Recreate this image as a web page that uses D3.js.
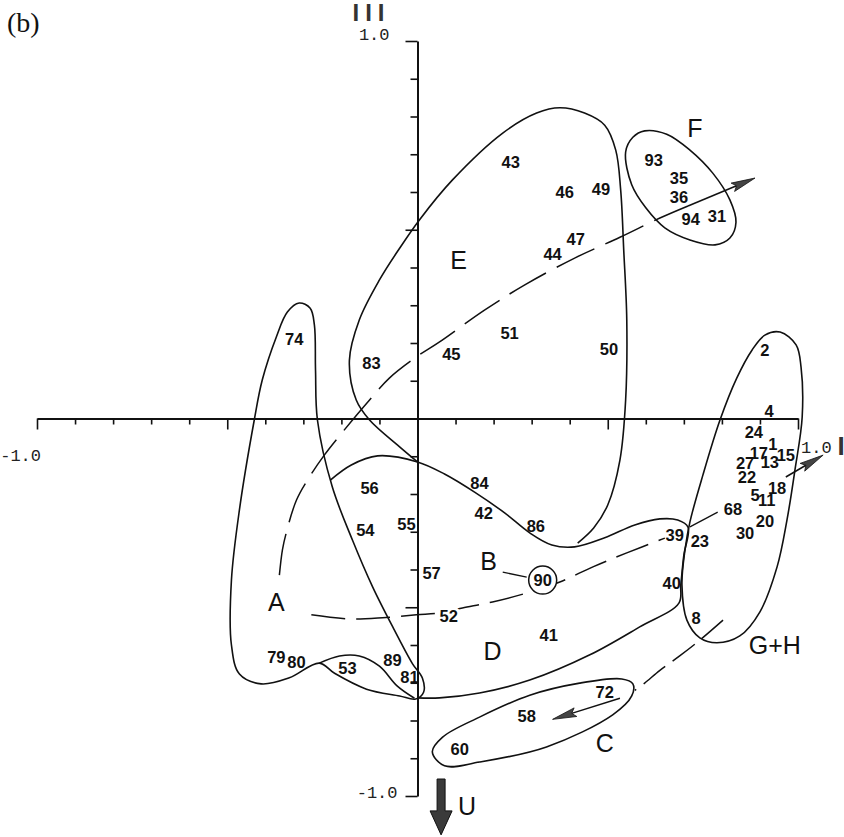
<!DOCTYPE html>
<html>
<head>
<meta charset="utf-8">
<script src="https://cdn.jsdelivr.net/npm/d3@7/dist/d3.min.js"></script>
<style>
  body { margin: 0; background: #fff; }
  svg { display: block; }
</style>
</head>
<body>
<div id="chart"></div>
<script>
// Score plot, axis I (horizontal) vs axis III (vertical)
const width = 844, height = 837;

// sample numbers and their scores
const pointIds = ["1","2","4","5","8","11","13","15","17","18","20","22","23","24","27","30","31","35","36","39",
  "40","41","42","43","44","45","46","47","49","50","51","52","53","54","55","56","57","58","60","68",
  "72","74","79","80","81","83","84","86","89","90","93","94"];
const scoreI = [0.934,0.913,0.924,0.887,0.732,0.918,0.926,0.968,0.897,0.945,0.913,0.866,0.742,0.884,0.861,0.861,0.787,0.687,0.687,0.676,
  0.668,0.345,0.174,0.245,0.355,0.089,0.387,0.416,0.482,0.503,0.242,0.082,-0.184,-0.137,-0.029,-0.126,0.037,0.287,0.111,0.829,
  0.492,-0.324,-0.371,-0.318,-0.021,-0.121,0.163,0.311,-0.066,0.329,0.621,0.718];
const scoreIII = [-0.068,0.181,0.020,-0.203,-0.528,-0.216,-0.115,-0.097,-0.091,-0.184,-0.272,-0.155,-0.325,-0.036,-0.118,-0.303,0.536,0.637,0.587,-0.309,
  -0.436,-0.574,-0.250,0.679,0.436,0.171,0.600,0.475,0.608,0.184,0.226,-0.523,-0.661,-0.295,-0.279,-0.184,-0.409,-0.788,-0.875,-0.240,
  -0.725,0.211,-0.632,-0.645,-0.685,0.147,-0.171,-0.285,-0.640,-0.428,0.685,0.528];

// group letters
const groupNames = ["A","B","C","D","E","F","G+H"];
const groupI = [-0.371,0.187,0.492,0.197,0.108,0.729,0.939];
const groupIII = [-0.486,-0.377,-0.860,-0.616,0.420,0.770,-0.600];

// hand drawn group outlines [I, III]
const outlineA = [[-0.311,0.306],[-0.282,0.292],[-0.271,0.248],[-0.268,0.128],[-0.263,-0.004],[-0.224,-0.181],[-0.171,-0.322],
  [-0.118,-0.446],[-0.061,-0.560],[-0.013,-0.650],[0.013,-0.688],[0.016,-0.725],[-0.005,-0.743],[-0.047,-0.735],[-0.134,-0.717],
  [-0.218,-0.675],[-0.258,-0.648],[-0.337,-0.687],[-0.411,-0.703],[-0.468,-0.677],[-0.489,-0.600],[-0.489,-0.428],[-0.468,-0.242],
  [-0.429,-0.004],[-0.408,0.102],[-0.371,0.216],[-0.342,0.282]];
const loop53 = [[-0.258,-0.648],[-0.205,-0.629],[-0.153,-0.629],[-0.100,-0.656],[-0.053,-0.709],[-0.008,-0.741]];
const outlineBD = [[-0.229,-0.163],[-0.174,-0.123],[-0.105,-0.099],[0,-0.115],[0.071,-0.147],[0.150,-0.195],[0.229,-0.250],
  [0.295,-0.303],[0.353,-0.335],[0.413,-0.340],[0.492,-0.316],[0.571,-0.282],[0.637,-0.266],[0.684,-0.269],[0.711,-0.288],
  [0.700,-0.362],[0.692,-0.441],[0.687,-0.489],[0.584,-0.552],[0.453,-0.626],[0.295,-0.693],[0.163,-0.727],[0.058,-0.740],[0,-0.740]];
const outlineE = [[0,-0.115],[-0.047,-0.075],[-0.126,-0.004],[-0.161,0.049],[-0.179,0.154],[-0.153,0.261],[-0.100,0.367],
  [-0.047,0.451],[0.005,0.526],[0.092,0.632],[0.224,0.756],[0.313,0.809],[0.374,0.823],[0.439,0.809],[0.492,0.777],[0.521,0.711],
  [0.534,0.605],[0.542,0.446],[0.550,0.261],[0.547,0.049],[0.532,-0.110],[0.500,-0.229],[0.463,-0.290],[0.421,-0.330]];
const outlineF = [[0.547,0.706],[0.566,0.745],[0.597,0.762],[0.655,0.753],[0.716,0.711],[0.776,0.650],[0.821,0.579],[0.837,0.520],
  [0.821,0.478],[0.782,0.460],[0.716,0.473],[0.650,0.505],[0.600,0.558],[0.563,0.619]];
const outlineGH = [[0.953,0.229],[0.995,0.195],[1.008,0.136],[1.011,0.004],[0.992,-0.136],[0.971,-0.269],[0.945,-0.393],[0.900,-0.512],
  [0.847,-0.576],[0.787,-0.594],[0.742,-0.581],[0.708,-0.534],[0.695,-0.441],[0.703,-0.348],[0.716,-0.274],[0.750,-0.150],
  [0.795,-0.004],[0.839,0.107],[0.879,0.181],[0.913,0.221]];
const outlineC = [[0.039,-0.883],[0.071,-0.920],[0.163,-0.910],[0.339,-0.870],[0.513,-0.785],[0.563,-0.735],[0.566,-0.703],
  [0.537,-0.690],[0.426,-0.701],[0.295,-0.733],[0.163,-0.791],[0.066,-0.844]];

// dashed trends
const trendAEF = [[-0.363,-0.415],[-0.355,-0.348],[-0.345,-0.303],[-0.318,-0.216],[-0.284,-0.155],[-0.245,-0.097],[-0.197,-0.036],
  [-0.126,0.049],[-0.074,0.107],[-0.003,0.163],[0.058,0.203],[0.176,0.287],[0.282,0.354],[0.413,0.425],[0.532,0.480],[0.637,0.531],[0.711,0.563]];
const trendABG = [[-0.279,-0.520],[-0.179,-0.531],[-0.092,-0.528],[-0.003,-0.520],[0.058,-0.515],[0.118,-0.502],[0.197,-0.486],
  [0.295,-0.460],[0.374,-0.433],[0.461,-0.393],[0.550,-0.356],[0.650,-0.317]];
const trendGC = [[0.803,-0.534],[0.742,-0.587],[0.689,-0.629],[0.637,-0.667],[0.597,-0.701],[0.571,-0.720]];

// arrows [from, to]
const arrowF = [[0.711,0.563],[0.887,0.637]];
const arrowI = [[0.968,-0.155],[1.066,-0.097]];
const arrowC = [[0.532,-0.741],[0.355,-0.797]];
const arrowU = [[0.062,-0.955],[0.062,-1.103]];
const leaderB = [[0.224,-0.407],[0.287,-0.420]];
const leader68 = [[0.716,-0.287],[0.789,-0.248]];
const circled = "90";

// axis ticks
const tickValues = [-1.0,-0.9,-0.8,-0.7,-0.6,-0.5,-0.4,-0.3,-0.2,-0.1,0,0.1,0.2,0.3,0.4,0.5,0.6,0.7,0.8,0.9,1.0];
const majorTicks = [-1.0,-0.5,0.5,1.0];
const endLabels = ["-1.0","1.0"];

const x = d3.scaleLinear().domain([-1, 1]).range([37, 798]);
const y = d3.scaleLinear().domain([-1, 1]).range([796, 41]);

const svg = d3.select("#chart").append("svg")
    .attr("width", width)
    .attr("height", height);

const ink = "#111";

// axes
const xAxis = svg.append("g")
    .attr("transform", `translate(0, ${y(0)})`)
    .call(d3.axisBottom(x).tickValues(tickValues).tickSize(6).tickSizeOuter(0).tickFormat(""));
xAxis.selectAll(".tick line").attr("y2", d => majorTicks.includes(d) ? 11 : 6);

const yAxis = svg.append("g")
    .attr("transform", `translate(${x(0)}, 0)`)
    .call(d3.axisLeft(y).tickValues(tickValues).tickSize(7).tickSizeOuter(0).tickFormat(""));
yAxis.selectAll(".tick line").attr("x2", d => majorTicks.includes(d) ? -12 : -7);

svg.selectAll(".domain").attr("stroke", ink).attr("stroke-width", 2);
svg.selectAll(".tick line").attr("stroke", ink).attr("stroke-width", 1.6);

const monoStyle = sel => sel.attr("font-family", "Liberation Mono, DejaVu Sans Mono, monospace")
    .attr("font-size", 17).attr("fill", "#222").attr("dominant-baseline", "central");

svg.append("text").call(monoStyle).attr("text-anchor", "end")
    .attr("x", x(-1) + 4).attr("y", y(0) + 38).text(endLabels[0]);
svg.append("text").call(monoStyle).attr("text-anchor", "start")
    .attr("x", x(1) + 3).attr("y", y(0) + 30).text(endLabels[1]);
svg.append("text").call(monoStyle).attr("text-anchor", "end")
    .attr("x", x(0) - 28).attr("y", y(1) - 6).text(endLabels[1]);
svg.append("text").call(monoStyle).attr("text-anchor", "end")
    .attr("x", x(0) - 20).attr("y", y(-1) - 3).text(endLabels[0]);

// axis names
svg.append("text")
    .attr("x", x(0) - 46).attr("y", 12)
    .attr("text-anchor", "middle").attr("dominant-baseline", "central")
    .attr("font-family", "Liberation Sans, Arial, sans-serif").attr("font-weight", "bold")
    .attr("font-size", 24).attr("letter-spacing", 6).attr("fill", "#333")
    .text("III");
svg.append("text")
    .attr("x", x(1) + 43).attr("y", y(0) + 27)
    .attr("text-anchor", "middle").attr("dominant-baseline", "central")
    .attr("font-family", "Liberation Sans, Arial, sans-serif").attr("font-weight", "bold")
    .attr("font-size", 26).attr("fill", "#333")
    .text("I");

svg.append("text")
    .attr("x", 7).attr("y", 32)
    .attr("font-family", "Liberation Serif, Times New Roman, serif")
    .attr("font-size", 28).attr("fill", ink)
    .text("(b)");

// outlines
const lineOpen = d3.line().x(d => x(d[0])).y(d => y(d[1])).curve(d3.curveCatmullRom.alpha(0.5));
const lineClosed = d3.line().x(d => x(d[0])).y(d => y(d[1])).curve(d3.curveCatmullRomClosed.alpha(0.5));

const closedShapes = [outlineA, outlineF, outlineGH, outlineC];
const openShapes = [loop53, outlineBD, outlineE];

svg.append("g").selectAll("path.closed").data(closedShapes).enter().append("path")
    .attr("class", "closed")
    .attr("d", lineClosed)
    .attr("fill", "none").attr("stroke", ink).attr("stroke-width", 1.6);

svg.append("g").selectAll("path.open").data(openShapes).enter().append("path")
    .attr("class", "open")
    .attr("d", lineOpen)
    .attr("fill", "none").attr("stroke", ink).attr("stroke-width", 1.6);

// dashed trends
const trends = [
  { pts: trendAEF, dash: "42,12" },
  { pts: trendABG, dash: "34,11" },
  { pts: trendGC, dash: "28,9" }
];
svg.append("g").selectAll("path.trend").data(trends).enter().append("path")
    .attr("class", "trend")
    .attr("d", d => lineOpen(d.pts))
    .attr("fill", "none").attr("stroke", ink).attr("stroke-width", 1.5)
    .attr("stroke-dasharray", d => d.dash);

// leaders
svg.append("g").selectAll("line.leader").data([leaderB, leader68]).enter().append("line")
    .attr("class", "leader")
    .attr("x1", d => x(d[0][0])).attr("y1", d => y(d[0][1]))
    .attr("x2", d => x(d[1][0])).attr("y2", d => y(d[1][1]))
    .attr("stroke", ink).attr("stroke-width", 1.3);

// arrows
function drawArrow(a, headLen, headW, shaftW) {
  const x0 = x(a[0][0]), y0 = y(a[0][1]), x1 = x(a[1][0]), y1 = y(a[1][1]);
  const len = Math.hypot(x1 - x0, y1 - y0);
  const ux = (x1 - x0) / len, uy = (y1 - y0) / len;
  const nx = -uy, ny = ux;
  const bx = x1 - ux * headLen, by = y1 - uy * headLen;
  if (shaftW > 2) {
    svg.append("polygon")
      .attr("points", [
        [x0 + nx * shaftW / 2, y0 + ny * shaftW / 2],
        [bx + nx * shaftW / 2, by + ny * shaftW / 2],
        [bx + nx * headW / 2, by + ny * headW / 2],
        [x1, y1],
        [bx - nx * headW / 2, by - ny * headW / 2],
        [bx - nx * shaftW / 2, by - ny * shaftW / 2],
        [x0 - nx * shaftW / 2, y0 - ny * shaftW / 2]
      ].map(p => p.join(",")).join(" "))
      .attr("fill", "#3a3a3a").attr("stroke", ink).attr("stroke-width", 1);
  } else {
    svg.append("line")
      .attr("x1", x0).attr("y1", y0).attr("x2", bx + ux * 4).attr("y2", by + uy * 4)
      .attr("stroke", ink).attr("stroke-width", 1.5);
    svg.append("polygon")
      .attr("points", [
        [x1, y1],
        [bx + nx * headW / 2, by + ny * headW / 2],
        [bx + ux * 4, by + uy * 4],
        [bx - nx * headW / 2, by - ny * headW / 2]
      ].map(p => p.join(",")).join(" "))
      .attr("fill", "#444").attr("stroke", ink).attr("stroke-width", 0.8);
  }
}
drawArrow(arrowF, 24, 9, 1.5);
drawArrow(arrowI, 24, 9, 1.5);
drawArrow(arrowC, 24, 9, 1.5);
drawArrow(arrowU, 24, 22, 8);

svg.append("text")
    .attr("x", x(arrowU[0][0]) + 26).attr("y", y(-1) + 10)
    .attr("text-anchor", "middle").attr("dominant-baseline", "central")
    .attr("font-family", "Liberation Sans, Arial, sans-serif")
    .attr("font-size", 25).attr("fill", ink)
    .text("U");

// circled sample
const ci = pointIds.indexOf(circled);
svg.append("circle")
    .attr("cx", x(scoreI[ci])).attr("cy", y(scoreIII[ci]))
    .attr("r", 14)
    .attr("fill", "#fff").attr("stroke", ink).attr("stroke-width", 1.5);

// sample labels
svg.append("g").selectAll("text.pt").data(pointIds).enter().append("text")
    .attr("class", "pt")
    .attr("x", (d, i) => x(scoreI[i]))
    .attr("y", (d, i) => y(scoreIII[i]))
    .attr("text-anchor", "middle").attr("dominant-baseline", "central")
    .attr("font-family", "Liberation Sans, Arial, sans-serif")
    .attr("font-weight", "bold").attr("font-size", 16.5)
    .attr("fill", ink)
    .attr("stroke", d => d === "52" ? "#fff" : "none")
    .attr("stroke-width", 6).attr("paint-order", "stroke")
    .text(d => d);

// group letters
svg.append("g").selectAll("text.grp").data(groupNames).enter().append("text")
    .attr("class", "grp")
    .attr("x", (d, i) => x(groupI[i]))
    .attr("y", (d, i) => y(groupIII[i]))
    .attr("text-anchor", "middle").attr("dominant-baseline", "central")
    .attr("font-family", "Liberation Sans, Arial, sans-serif")
    .attr("font-size", 25).attr("fill", ink)
    .text(d => d);
</script>
</body>
</html>
